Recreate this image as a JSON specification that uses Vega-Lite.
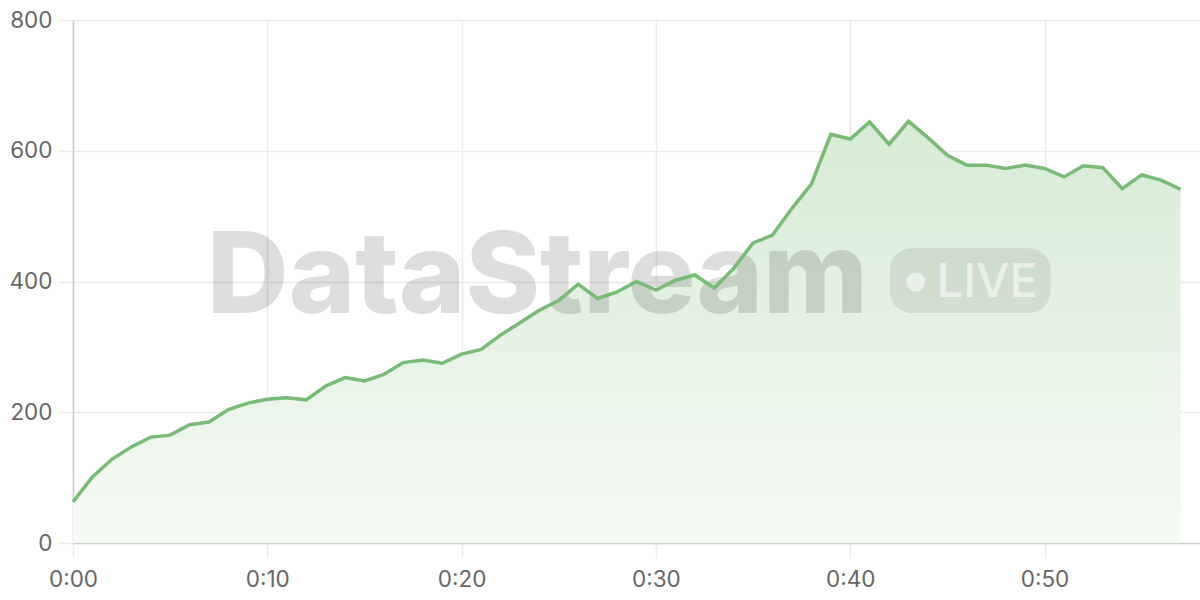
{
  "$schema": "https://vega.github.io/schema/vega-lite/v6.json",
  "width": 1127,
  "height": 523,
  "autosize": "none",
  "padding": {"left": 73, "top": 20, "right": 0, "bottom": 57},
  "background": "white",
  "config": {
    "view": {"stroke": null},
    "axis": {
      "labelFont": "Inter",
      "labelFontSize": 22.5,
      "labelColor": "#666666",
      "labelFlush": false,
      "domainColor": "#cccccc",
      "domainWidth": 1.5,
      "gridColor": "#ebebeb",
      "gridWidth": 1.5,
      "tickColor": "#ebebeb",
      "tickWidth": 1.5,
      "tickSize": 15,
      "title": null
    }
  },
  "datasets": {
    "series": [
      {"t": 0, "v": 63}, {"t": 1, "v": 101}, {"t": 2, "v": 128}, {"t": 3, "v": 147},
      {"t": 4, "v": 162}, {"t": 5, "v": 165}, {"t": 6, "v": 181}, {"t": 7, "v": 185},
      {"t": 8, "v": 204}, {"t": 9, "v": 214}, {"t": 10, "v": 220}, {"t": 11, "v": 222},
      {"t": 12, "v": 219}, {"t": 13, "v": 240}, {"t": 14, "v": 253}, {"t": 15, "v": 248},
      {"t": 16, "v": 258}, {"t": 17, "v": 276}, {"t": 18, "v": 280}, {"t": 19, "v": 275},
      {"t": 20, "v": 289}, {"t": 21, "v": 296}, {"t": 22, "v": 318}, {"t": 23, "v": 337},
      {"t": 24, "v": 356}, {"t": 25, "v": 371}, {"t": 26, "v": 396}, {"t": 27, "v": 374},
      {"t": 28, "v": 384}, {"t": 29, "v": 400}, {"t": 30, "v": 387}, {"t": 31, "v": 402},
      {"t": 32, "v": 410}, {"t": 33, "v": 390}, {"t": 34, "v": 420}, {"t": 35, "v": 459},
      {"t": 36, "v": 471}, {"t": 37, "v": 512}, {"t": 38, "v": 549}, {"t": 39, "v": 625},
      {"t": 40, "v": 618}, {"t": 41, "v": 644}, {"t": 42, "v": 610}, {"t": 43, "v": 645},
      {"t": 44, "v": 620}, {"t": 45, "v": 593}, {"t": 46, "v": 578}, {"t": 47, "v": 578},
      {"t": 48, "v": 573}, {"t": 49, "v": 578}, {"t": 50, "v": 573}, {"t": 51, "v": 560},
      {"t": 52, "v": 577}, {"t": 53, "v": 574}, {"t": 54, "v": 542}, {"t": 55, "v": 563},
      {"t": 56, "v": 555}, {"t": 57, "v": 541}
    ]
  },
  "layer": [
    {
      "data": {"name": "series"},
      "mark": {
        "type": "area",
        "color": {
          "gradient": "linear",
          "x1": 0, "y1": 0, "x2": 0, "y2": 1,
          "stops": [
            {"offset": 0, "color": "#d6ebd4"},
            {"offset": 1, "color": "#f6faf5"}
          ]
        }
      },
      "encoding": {
        "x": {
          "field": "t",
          "type": "quantitative",
          "scale": {"domain": [0, 58], "nice": false, "zero": false},
          "axis": {
            "values": [0, 10, 20, 30, 40, 50],
            "labelExpr": "'0:' + (datum.value < 10 ? '0' : '') + datum.value",
            "labelPadding": 10,
            "grid": true
          }
        },
        "y": {
          "field": "v",
          "type": "quantitative",
          "scale": {"domain": [0, 800], "nice": false},
          "axis": {
            "values": [0, 200, 400, 600, 800],
            "labelPadding": 6,
            "grid": true
          }
        }
      }
    },
    {
      "data": {"values": [{"t": 6.9, "v": 352, "label": "DataStream"}]},
      "mark": {
        "type": "text",
        "font": "Inter",
        "fontWeight": 800,
        "fontSize": 113,
        "align": "left",
        "baseline": "alphabetic",
        "color": "#000000",
        "opacity": 0.13
      },
      "encoding": {
        "x": {"field": "t", "type": "quantitative"},
        "y": {"field": "v", "type": "quantitative"},
        "text": {"field": "label"}
      }
    },
    {
      "data": {"values": [{"t": 42.03, "t2": 50.31, "v": 451, "v2": 352}]},
      "mark": {"type": "rect", "cornerRadius": 22, "color": "#000000", "opacity": 0.08},
      "encoding": {
        "x": {"field": "t", "type": "quantitative"},
        "x2": {"field": "t2"},
        "y": {"field": "v", "type": "quantitative"},
        "y2": {"field": "v2"}
      }
    },
    {
      "data": {"values": [{"t": 43.37, "v": 399}]},
      "mark": {"type": "circle", "size": 360, "color": "#ffffff", "opacity": 0.55},
      "encoding": {
        "x": {"field": "t", "type": "quantitative"},
        "y": {"field": "v", "type": "quantitative"}
      }
    },
    {
      "data": {"values": [{"t": 44.45, "v": 376, "label": "LIVE"}]},
      "mark": {
        "type": "text",
        "font": "Inter",
        "fontWeight": 500,
        "fontSize": 47,
        "align": "left",
        "baseline": "alphabetic",
        "color": "#ffffff",
        "opacity": 0.55
      },
      "encoding": {
        "x": {"field": "t", "type": "quantitative"},
        "y": {"field": "v", "type": "quantitative"},
        "text": {"field": "label"}
      }
    },
    {
      "data": {"name": "series"},
      "mark": {"type": "line", "color": "#77bb75", "strokeWidth": 3.5, "strokeJoin": "miter"},
      "encoding": {
        "x": {"field": "t", "type": "quantitative"},
        "y": {"field": "v", "type": "quantitative"}
      }
    }
  ]
}
